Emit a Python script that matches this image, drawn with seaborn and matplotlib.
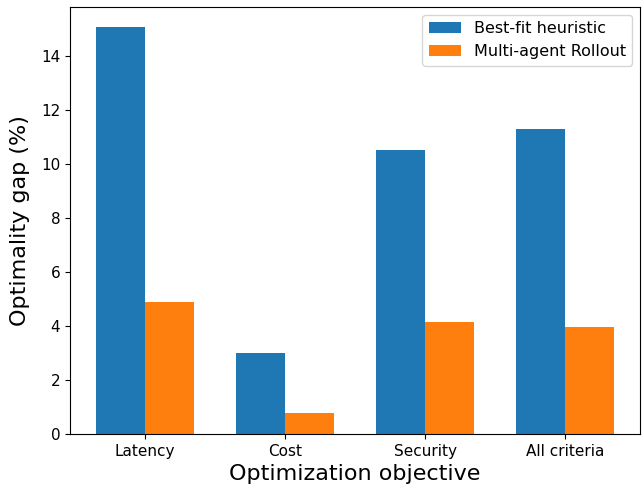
import pandas as pd
import matplotlib
matplotlib.use('Agg')
import matplotlib.pyplot as plt
import seaborn as sns

# values
objectives = ['Latency', 'Cost', 'Security', 'All criteria']
best_fit = [15.05, 3.0, 10.5, 11.27]
rollout = [4.88, 0.78, 4.15, 3.95]
methods = ['Best-fit heuristic', 'Multi-agent Rollout']

df = pd.DataFrame({
    'objective': objectives * 2,
    'gap': best_fit + rollout,
    'method': [methods[0]] * len(objectives) + [methods[1]] * len(objectives),
})

fig, ax = plt.subplots(figsize=(6.42, 4.88), dpi=100)
sns.barplot(data=df, x='objective', y='gap', hue='method', hue_order=methods,
            palette=['#1f77b4', '#ff7f0e'], saturation=1, width=0.7, ax=ax)

ax.set_xlabel('Optimization objective', fontsize=16)
ax.set_ylabel('Optimality gap (%)', fontsize=16, labelpad=8)
ax.tick_params(labelsize=11)
ax.set_xlim(-0.535, 3.535)
ax.legend(loc='upper right', title=None, fontsize=11.5)

plt.subplots_adjust(left=0.109, right=0.997, top=0.986, bottom=0.111)
plt.savefig('out.png')
